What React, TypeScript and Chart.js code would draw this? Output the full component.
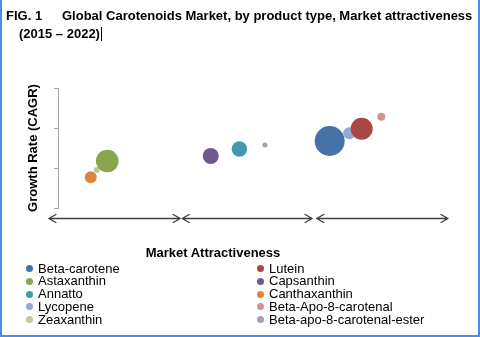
import React, { useEffect, useRef } from "react";
import { Chart, registerables } from "chart.js";

Chart.register(...registerables);

// ---- Data ----
const products = [
  "Beta-carotene",
  "Lutein",
  "Astaxanthin",
  "Capsanthin",
  "Annatto",
  "Canthaxanthin",
  "Lycopene",
  "Beta-Apo-8-carotenal",
  "Zeaxanthin",
  "Beta-apo-8-carotenal-ester",
];
const attractiveness = [2.09, 2.336, 0.379, 1.175, 1.395, 0.252, 2.24, 2.487, 0.298, 1.592];
const growthRate = [1.675, 1.98, 1.175, 1.3, 1.475, 0.77, 1.87, 2.28, 0.95, 1.575];
const bubbleSize = [15, 11, 11.3, 8, 7.7, 6, 6, 4, 3, 2.5];
const colors = [
  "#4572A7",
  "#AA4643",
  "#89A54E",
  "#71588F",
  "#4198AF",
  "#DB843D",
  "#93A9CF",
  "#D19392",
  "#B9CD96",
  "#A99BBD",
];
const yRange = [0, 3];
const xRange = [0, 3];
const arrowSegments = [
  [-0.07, 0.94],
  [0.955, 1.955],
  [1.99, 3.0],
];
const arrowLevel = -0.25;

const titleLine1a = "FIG. 1";
const titleLine1b = "Global Carotenoids Market, by product type, Market attractiveness";
const titleLine2 = "(2015 \u2013 2022)";
const yTitle = "Growth Rate (CAGR)";
const xTitle = "Market Attractiveness";

const FONT = '"Liberation Sans", Arial, sans-serif';

const arrowPlugin = {
  id: "arrows",
  afterDraw(chart: any) {
    const xs = chart.scales.x;
    const ys = chart.scales.y;
    const ctx = chart.ctx;
    const y = Math.round(ys.getPixelForValue(arrowLevel)) + 0.5;
    ctx.save();
    ctx.strokeStyle = "#404040";
    ctx.lineWidth = 1.4;
    ctx.lineCap = "round";
    ctx.lineJoin = "round";
    for (const [a, b] of arrowSegments) {
      const p0 = xs.getPixelForValue(a);
      const p1 = xs.getPixelForValue(b);
      ctx.beginPath();
      ctx.moveTo(p0, y);
      ctx.lineTo(p1, y);
      ctx.moveTo(p0 + 7, y - 4);
      ctx.lineTo(p0, y);
      ctx.lineTo(p0 + 7, y + 4);
      ctx.moveTo(p1 - 7, y - 4);
      ctx.lineTo(p1, y);
      ctx.lineTo(p1 - 7, y + 4);
      ctx.stroke();
    }
    ctx.restore();
  },
};

export default function App() {
  const canvasRef = useRef<HTMLCanvasElement | null>(null);

  useEffect(() => {
    if (!canvasRef.current) return;
    const chart = new Chart(canvasRef.current, {
      type: "bubble",
      data: {
        datasets: products.map((p, i) => ({
          label: p,
          data: [{ x: attractiveness[i], y: growthRate[i], r: bubbleSize[i] }],
          backgroundColor: colors[i],
          borderColor: colors[i],
          borderWidth: 0,
        })),
      },
      options: {
        responsive: false,
        animation: false,
        events: [],
        layout: { padding: { left: 22, top: 88, right: 32, bottom: 129 } },
        plugins: {
          legend: { display: false },
          tooltip: { enabled: false },
          title: { display: false },
        },
        scales: {
          x: { type: "linear", display: false, min: xRange[0], max: xRange[1] },
          y: {
            type: "linear",
            min: yRange[0],
            max: yRange[1],
            afterFit(scale: any) {
              scale.width = 36;
            },
            ticks: { display: false, stepSize: 1 },
            grid: {
              display: true,
              drawOnChartArea: false,
              drawTicks: true,
              tickLength: 4,
              color: "#a6a6a6",
              lineWidth: 1,
            },
            border: { display: true, color: "#a6a6a6", width: 1 },
            title: {
              display: true,
              text: yTitle,
              color: "#000",
              font: { family: FONT, size: 13, weight: "bold" },
              padding: { top: 4, bottom: 0 },
            },
          },
        },
      },
      plugins: [arrowPlugin],
    });
    return () => chart.destroy();
  }, []);

  return (
    <div
      style={{
        position: "absolute",
        left: 0,
        top: 0,
        width: 480,
        height: 337,
        background: "#fff",
        fontFamily: FONT,
        color: "#000",
        overflow: "hidden",
      }}
    >
      <canvas ref={canvasRef} width={480} height={337} style={{ position: "absolute", left: 0, top: 0 }} />
      <div style={{ position: "absolute", left: 6, top: 8, fontSize: 13, fontWeight: "bold", lineHeight: "16px", whiteSpace: "nowrap" }}>
        {titleLine1a}
      </div>
      <div style={{ position: "absolute", left: 62, top: 8, fontSize: 13, fontWeight: "bold", lineHeight: "16px", whiteSpace: "nowrap" }}>
        {titleLine1b}
      </div>
      <div style={{ position: "absolute", left: 19, top: 26, fontSize: 13, fontWeight: "bold", lineHeight: "16px", whiteSpace: "nowrap" }}>
        {titleLine2}
      </div>
      <div style={{ position: "absolute", left: 101, top: 27, width: 1, height: 14, background: "#000" }} />
      <div
        style={{
          position: "absolute",
          left: 0,
          width: 426,
          top: 245,
          textAlign: "center",
          fontSize: 13,
          fontWeight: "bold",
          lineHeight: "16px",
          whiteSpace: "nowrap",
        }}
      >
        {xTitle}
      </div>
      {products.map((p, i) => {
        const col = i % 2;
        const row = Math.floor(i / 2);
        return (
          <div
            key={p}
            style={{
              position: "absolute",
              left: 26 + col * 231,
              top: 261.5 + row * 12.8,
              height: 14,
              display: "flex",
              alignItems: "center",
              fontSize: 13,
              lineHeight: "14px",
              whiteSpace: "nowrap",
            }}
          >
            <span
              style={{
                display: "inline-block",
                width: 7,
                height: 7,
                borderRadius: "50%",
                background: colors[i],
                marginRight: 5,
              }}
            />
            {p}
          </div>
        );
      })}
      <div style={{ position: "absolute", left: 0, top: 0, width: 2, height: 337, background: "#4a8fe7" }} />
      <div style={{ position: "absolute", right: 0, top: 0, width: 2, height: 337, background: "#4a8fe7" }} />
      <div style={{ position: "absolute", left: 0, bottom: 0, width: 480, height: 2, background: "#4a8fe7" }} />
    </div>
  );
}
